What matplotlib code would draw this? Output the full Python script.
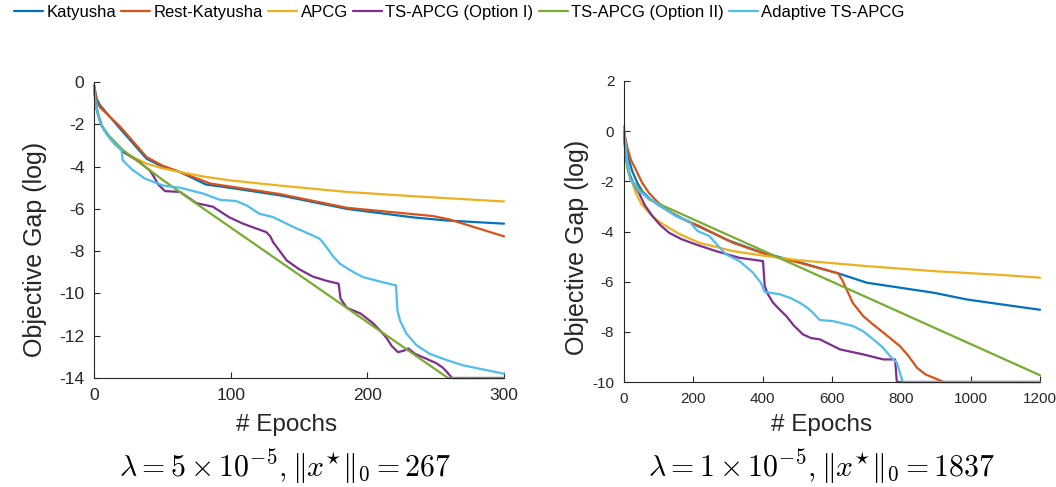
import matplotlib
matplotlib.use('Agg')
import matplotlib.pyplot as plt

plt.rcParams['font.family'] = ['Liberation Sans', 'DejaVu Sans']
plt.rcParams['mathtext.fontset'] = 'cm'
plt.rcParams['axes.unicode_minus'] = False

names = ['Katyusha', 'Rest-Katyusha', 'APCG', 'TS-APCG (Option I)',
         'TS-APCG (Option II)', 'Adaptive TS-APCG']
colors = ['#0072BD', '#D95319', '#EDB120', '#7E2F8E', '#77AC30', '#4DBEEE']

# ---- left panel: lambda = 5e-5 ----
kat_L_x = [0, 2, 4.4, 19, 38.5, 50, 63, 82, 99, 136, 185, 233, 258, 300]
kat_L_y = [-0.16, -0.8, -1.1, -2.2, -3.63, -4.0, -4.26, -4.85, -5.0, -5.36, -6.0, -6.4, -6.55, -6.7]
rest_L_x = [0, 2, 4.4, 19, 38.5, 50, 63, 85, 136, 185, 248, 260, 270, 285, 300]
rest_L_y = [-0.16, -0.9, -1.2, -2.1, -3.55, -3.95, -4.26, -4.8, -5.3, -5.95, -6.34, -6.5,
            -6.7, -7.0, -7.3]
apcg_L_x = [0, 1, 3, 6, 9.3, 15, 21.4, 30, 38.5, 50, 63, 80, 99, 136, 185, 233, 300]
apcg_L_y = [-0.16, -0.9, -1.6, -2.1, -2.45, -2.95, -3.3, -3.6, -3.86, -4.08, -4.26, -4.47,
            -4.65, -4.9, -5.2, -5.4, -5.65]
ts1_L_x = [0, 1, 2, 5, 9.3, 21.4, 33.6, 41, 44, 47, 52, 63, 75, 87, 99, 109, 126, 129, 131,
           141, 150, 160, 170, 179, 180.4, 185, 195, 204, 210, 214, 218, 222.5, 227, 230,
           234.7, 250.5, 255, 258, 262, 300]
ts1_L_y = [-0.16, -0.8, -1.3, -2.0, -2.45, -3.3, -3.8, -4.2, -4.5, -4.85, -5.16, -5.2, -5.73,
           -5.9, -6.4, -6.7, -7.1, -7.3, -7.57, -8.44, -8.85, -9.2, -9.4, -9.54, -10.25,
           -10.68, -10.95, -11.4, -11.8, -12.1, -12.5, -12.78, -12.7, -12.6, -12.85, -13.3,
           -13.5, -13.7, -14, -14]
ts2_L_x = [0, 1, 3, 6, 11.7, 21.4, 50.7, 75, 259, 300]
ts2_L_y = [-0.16, -0.9, -1.5, -2.1, -2.6, -3.23, -4.65, -5.76, -14, -14]
ada_L_x = [0, 0.7, 1.5, 5, 11.7, 20.2, 21, 28, 37.3, 50.7, 63, 80, 92, 104, 112, 121, 131,
           146, 158, 165, 167, 170, 175, 180, 190, 197, 210, 221, 222, 224, 228.6, 236,
           245.7, 258, 270, 285, 300]
ada_L_y = [-0.16, -0.7, -1.18, -2.0, -2.68, -3.23, -3.7, -4.15, -4.57, -4.9, -5.0, -5.28,
           -5.57, -5.63, -5.85, -6.23, -6.39, -6.86, -7.2, -7.41, -7.55, -7.8, -8.25, -8.6,
           -9.0, -9.23, -9.45, -9.62, -10.8, -11.3, -11.9, -12.45, -12.86, -13.15, -13.4,
           -13.6, -13.8]

# ---- right panel: lambda = 1e-5 ----
kat_R_x = [0, 5, 12, 24, 38, 53, 75, 100, 150, 200, 300, 400, 500, 618, 700, 796, 893, 989,
           1086, 1200]
kat_R_y = [0.0, -0.5, -1.05, -1.6, -2.05, -2.4, -2.7, -2.95, -3.35, -3.7, -4.35, -4.85, -5.2,
           -5.67, -6.04, -6.24, -6.44, -6.71, -6.9, -7.12]
rest_R_x = [0, 9.7, 20, 34, 52, 72, 95, 121, 160, 217, 314, 410, 507, 618, 630, 642, 660, 690,
            718, 748, 796, 820, 845, 870, 893, 922, 1200]
rest_R_y = [0.0, -0.66, -1.15, -1.53, -2.05, -2.46, -2.8, -3.12, -3.45, -3.78, -4.45, -4.91,
            -5.25, -5.67, -5.95, -6.31, -6.85, -7.37, -7.7, -8.03, -8.57, -8.95, -9.43, -9.7,
            -9.83, -10, -10]
apcg_R_x = [0, 5, 14.5, 24, 34, 50, 72, 95, 121, 160, 217, 314, 410, 507, 700, 893, 1086, 1200]
apcg_R_y = [-0.07, -0.9, -1.53, -2.05, -2.46, -2.9, -3.25, -3.55, -3.78, -4.1, -4.45, -4.78,
            -4.98, -5.15, -5.38, -5.58, -5.73, -5.84]
ts1_R_x = [0, 5, 15, 28, 43, 60, 82, 105, 130, 165, 208, 265, 333, 401, 404, 406, 415, 430,
           448, 468, 490, 516, 540, 565, 623, 690, 748, 782, 787, 1200]
ts1_R_y = [-0.07, -1.0, -1.7, -2.1, -2.46, -2.95, -3.39, -3.75, -4.05, -4.3, -4.52, -4.78,
           -5.05, -5.18, -5.8, -6.18, -6.5, -6.84, -7.1, -7.37, -7.75, -8.1, -8.25, -8.3, -8.7,
           -8.9, -9.1, -9.1, -10, -10]
ts2_R_x = [0, 5, 10, 19, 72, 1200]
ts2_R_y = [-0.07, -1.0, -1.5, -1.93, -2.72, -9.73]
ada_R_x = [0, 2, 5, 10, 19, 43, 92, 150, 188, 212, 246, 270, 294, 333, 372, 395, 406, 425, 449,
           480, 507, 530, 545, 565, 603, 661, 690, 719, 745, 767, 787, 796, 804, 1200]
ada_R_y = [0.2, -0.1, -0.6, -1.3, -1.93, -2.4, -2.86, -3.39, -3.59, -3.98, -4.18, -4.55, -4.91,
           -5.18, -5.64, -6.05, -6.41, -6.45, -6.5, -6.65, -6.84, -7.05, -7.24, -7.53, -7.57,
           -7.77, -7.98, -8.3, -8.6, -8.96, -9.23, -9.63, -10, -10]

left_series = [(kat_L_x, kat_L_y), (rest_L_x, rest_L_y), (apcg_L_x, apcg_L_y),
               (ts1_L_x, ts1_L_y), (ts2_L_x, ts2_L_y), (ada_L_x, ada_L_y)]
right_series = [(kat_R_x, kat_R_y), (rest_R_x, rest_R_y), (apcg_R_x, apcg_R_y),
                (ts1_R_x, ts1_R_y), (ts2_R_x, ts2_R_y), (ada_R_x, ada_R_y)]

captions = [r'$\lambda = 5 \times 10^{-5}, \|x^{\star}\|_0 = 267$',
            r'$\lambda = 1 \times 10^{-5}, \|x^{\star}\|_0 = 1837$']

fig = plt.figure(figsize=(10.56, 4.87), dpi=100)
ax1 = fig.add_axes([94 / 1056, 1 - 378 / 487, 410 / 1056, 296 / 487])
ax2 = fig.add_axes([624 / 1056, 1 - 382 / 487, 416 / 1056, 301 / 487])

gray = '#262626'


def draw(ax, series, xlim, ylim, xticks, yticks, tick_fs):
    for (x, y), c, n in zip(series, colors, names):
        ax.plot(x, y, color=c, lw=1.6, label=n, clip_on=False,
                solid_joinstyle='round', solid_capstyle='round')
    ax.set_xlim(*xlim)
    ax.set_ylim(*ylim)
    ax.set_xticks(xticks)
    ax.set_yticks(yticks)
    ax.spines['top'].set_visible(False)
    ax.spines['right'].set_visible(False)
    for s in ['left', 'bottom']:
        ax.spines[s].set_color(gray)
        ax.spines[s].set_linewidth(0.8)
    ax.tick_params(direction='in', length=4, width=0.8, color=gray,
                   labelcolor=gray, labelsize=tick_fs, pad=7)


draw(ax1, left_series, (0, 300), (-14, 0), [0, 100, 200, 300], range(-14, 1, 2), 12.5)
draw(ax2, right_series, (0, 1200), (-10, 2), range(0, 1201, 200), range(-10, 3, 2), 11)

# axis labels and captions
fig.text(287 / 1056, 1 - 425 / 487, '# Epochs', ha='center', va='center', fontsize=17.5, color=gray)
fig.text(822 / 1056, 1 - 425 / 487, '# Epochs', ha='center', va='center', fontsize=17.5, color=gray)
fig.text(35 / 1056, 1 - 249 / 487, 'Objective Gap (log)', rotation=90, ha='center', va='center',
         fontsize=18, color=gray)
fig.text(577 / 1056, 1 - 247 / 487, 'Objective Gap (log)', rotation=90, ha='center', va='center',
         fontsize=18, color=gray)
fig.text(285 / 1056, 1 - 467 / 487, captions[0], ha='center', va='center', fontsize=21.5)
fig.text(822 / 1056, 1 - 467 / 487, captions[1], ha='center', va='center', fontsize=21.5)

handles, labels = ax1.get_legend_handles_labels()
fig.legend(handles, labels, loc='upper left', bbox_to_anchor=(14 / 1056, 1 - 5 / 487),
           ncol=6, frameon=False, fontsize=12, handlelength=1.75, handletextpad=0.2,
           columnspacing=0.3, borderpad=0, borderaxespad=0)

fig.savefig('out.png', dpi=100)
